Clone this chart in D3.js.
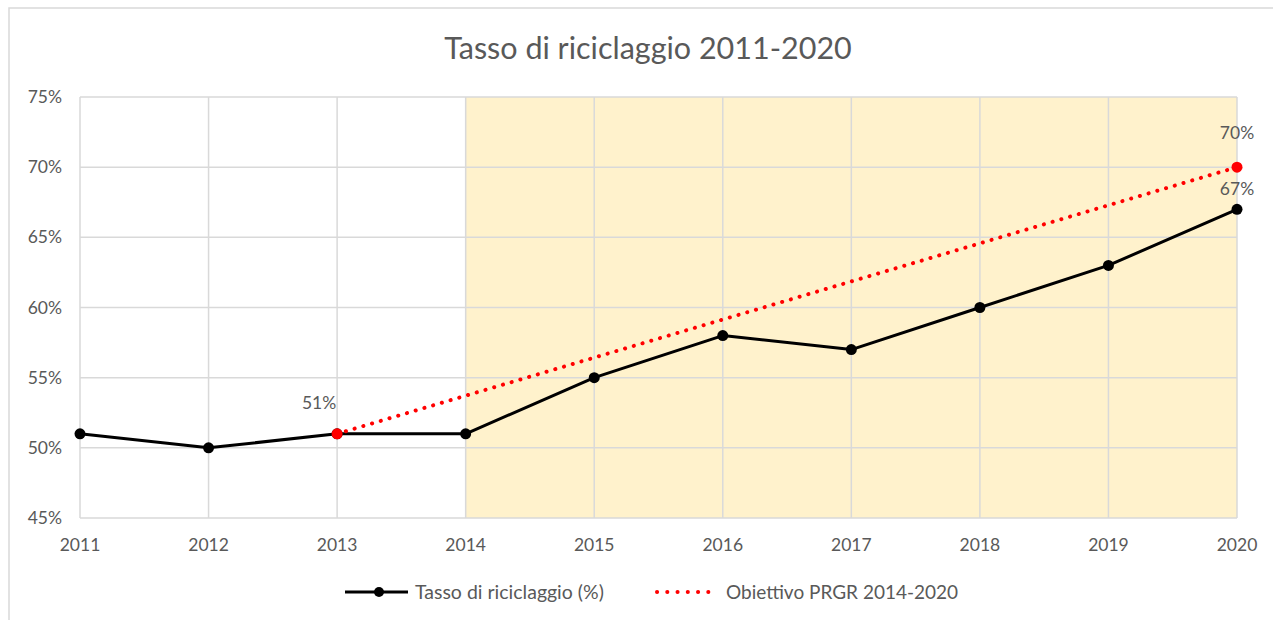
<!DOCTYPE html>
<meta charset="utf-8">
<style>
body { margin: 0; background: #fff; }
text { font-family: Lato, "Open Sans", sans-serif; fill: #595959; }
.grid line { stroke: #d9d9d9; stroke-width: 1.5px; }
</style>
<svg width="1273" height="620"></svg>
<script src="https://d3js.org/d3.v7.min.js"></script>
<script>

var years = [2011, 2012, 2013, 2014, 2015, 2016, 2017, 2018, 2019, 2020];
var tasso = [51, 50, 51, 51, 55, 58, 57, 60, 63, 67];
var obiettivoYears = [2013, 2020];
var obiettivo = [51, 70];
var yTicks = [45, 50, 55, 60, 65, 70, 75];
var shadeRange = [2014, 2020];

var svg = d3.select("svg");

// outer chart border
svg.append("rect")
    .attr("x", 9).attr("y", 8)
    .attr("width", 1290).attr("height", 640)
    .attr("fill", "none")
    .attr("stroke", "#d9d9d9")
    .attr("stroke-width", 1.5);

var x = d3.scalePoint().domain(years).range([80, 1237]);
var y = d3.scaleLinear().domain([45, 75]).range([518, 97]);

// shaded period
svg.append("rect")
    .attr("x", x(shadeRange[0]))
    .attr("y", y(75))
    .attr("width", x(shadeRange[1]) - x(shadeRange[0]))
    .attr("height", y(45) - y(75))
    .attr("fill", "#fff2cc");

var grid = svg.append("g").attr("class", "grid");
grid.selectAll("line.h").data(yTicks).enter().append("line")
    .attr("x1", x(2011)).attr("x2", x(2020))
    .attr("y1", function(d) { return y(d); })
    .attr("y2", function(d) { return y(d); });
grid.selectAll("line.v").data(years).enter().append("line")
    .attr("x1", function(d) { return x(d); })
    .attr("x2", function(d) { return x(d); })
    .attr("y1", y(75)).attr("y2", y(45));

svg.selectAll("text.ytick").data(yTicks).enter().append("text")
    .attr("x", 62)
    .attr("y", function(d) { return y(d) + 6; })
    .attr("text-anchor", "end")
    .attr("font-size", 17.5)
    .text(function(d) { return d + "%"; });

svg.selectAll("text.xtick").data(years).enter().append("text")
    .attr("x", function(d) { return x(d); })
    .attr("y", 551)
    .attr("text-anchor", "middle")
    .attr("font-size", 17.5)
    .text(function(d) { return d; });

svg.append("text")
    .attr("x", 648).attr("y", 59)
    .attr("text-anchor", "middle")
    .attr("font-size", 30.5)
    .text("Tasso di riciclaggio 2011-2020");

var line = d3.line()
    .x(function(d) { return x(d[0]); })
    .y(function(d) { return y(d[1]); });

var tassoPts = years.map(function(d, i) { return [d, tasso[i]]; });
var obPts = obiettivoYears.map(function(d, i) { return [d, obiettivo[i]]; });

svg.append("path")
    .attr("d", line(tassoPts))
    .attr("fill", "none")
    .attr("stroke", "#000")
    .attr("stroke-width", 3)
    .attr("stroke-linejoin", "round");

svg.selectAll("circle.t").data(tassoPts).enter().append("circle")
    .attr("cx", function(d) { return x(d[0]); })
    .attr("cy", function(d) { return y(d[1]); })
    .attr("r", 5.5)
    .attr("fill", "#000");

svg.append("path")
    .attr("d", line(obPts))
    .attr("fill", "none")
    .attr("stroke", "#ff0000")
    .attr("stroke-width", 4)
    .attr("stroke-linecap", "round")
    .attr("stroke-dasharray", "0.1 9");

svg.selectAll("circle.o").data(obPts).enter().append("circle")
    .attr("cx", function(d) { return x(d[0]); })
    .attr("cy", function(d) { return y(d[1]); })
    .attr("r", 5.5)
    .attr("fill", "#ff0000");

// data labels
svg.append("text")
    .attr("x", x(2013) - 18).attr("y", y(51) - 25)
    .attr("text-anchor", "middle").attr("font-size", 17.5)
    .text("51%");
svg.append("text")
    .attr("x", x(2020)).attr("y", y(70) - 28)
    .attr("text-anchor", "middle").attr("font-size", 17.5)
    .text("70%");
svg.append("text")
    .attr("x", x(2020)).attr("y", y(67) - 14)
    .attr("text-anchor", "middle").attr("font-size", 17.5)
    .text("67%");

// legend
var lg = svg.append("g");
lg.append("line")
    .attr("x1", 345).attr("x2", 408).attr("y1", 592).attr("y2", 592)
    .attr("stroke", "#000").attr("stroke-width", 3);
lg.append("circle").attr("cx", 379).attr("cy", 592).attr("r", 5).attr("fill", "#000");
lg.append("text").attr("x", 415).attr("y", 599).attr("font-size", 19.5)
    .text("Tasso di riciclaggio (%)");
lg.append("line")
    .attr("x1", 657).attr("x2", 718).attr("y1", 592).attr("y2", 592)
    .attr("stroke", "#ff0000").attr("stroke-width", 4)
    .attr("stroke-linecap", "round").attr("stroke-dasharray", "0.1 10.15");
lg.append("text").attr("x", 726).attr("y", 599).attr("font-size", 19)
    .text("Obiettivo PRGR 2014-2020");

</script>
